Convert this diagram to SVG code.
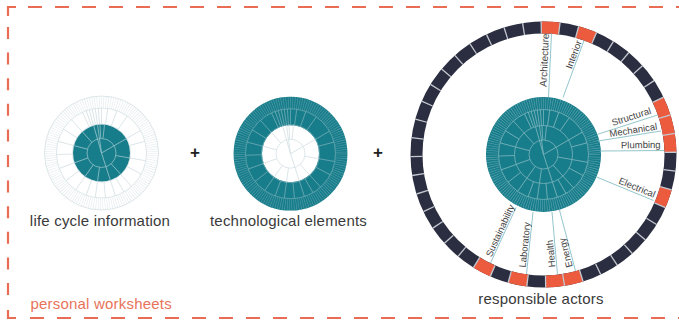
<svg xmlns="http://www.w3.org/2000/svg" width="679" height="325" viewBox="0 0 679 325">
<style>
.brd{fill:none;stroke:#e96d55;stroke-width:2.2}
.lbl{font-family:"Liberation Sans",Arial,sans-serif;font-size:15px;letter-spacing:0.2px;fill:#3a3a3a;text-anchor:middle}
.plus{font-family:"Liberation Sans",Arial,sans-serif;font-size:17px;font-weight:bold;fill:#222;text-anchor:middle}
.act{font-family:"Liberation Sans",Arial,sans-serif;font-size:9.5px;fill:#444}
.lead{stroke:#93c6cc;stroke-width:1;fill:none}
.teal{fill:#187d8b}
.seg{fill:none;stroke:#ec5b3d;stroke-width:12;stroke-dasharray:18.135 779.83}
</style>
<defs>
<g id="inner" fill="none">
<circle r="14.5"/>
<line y2="-29" transform="rotate(-16)"/>
<line y2="-29" transform="rotate(-8)"/>
<line y2="-29" transform="rotate(60)"/>
<line y2="-29" transform="rotate(162)"/>
<line y1="-14.5" y2="-29" transform="rotate(-3)"/>
<line y1="-14.5" y2="-29" transform="rotate(6)"/>
<line y1="-14.5" y2="-29" transform="rotate(100)"/>
<line y1="-14.5" y2="-29" transform="rotate(138)"/>
<line y1="-14.5" y2="-29" transform="rotate(188)"/>
<line y1="-14.5" y2="-29" transform="rotate(215)"/>
<line y1="-14.5" y2="-29" transform="rotate(250)"/>
<line y1="-14.5" y2="-29" transform="rotate(285)"/>
<line y1="-14.5" y2="-29" transform="rotate(318)"/>
</g>
<g id="outer" fill="none">
<circle r="29"/>
<circle r="45"/>
<circle r="51" stroke-width="12" stroke-dasharray="0.55 1.69" stroke-opacity="0.75"/>
<line y1="-29" y2="-45" transform="rotate(-20)"/>
<line y1="-29" y2="-45" transform="rotate(-16)"/>
<line y1="-29" y2="-45" transform="rotate(-12)"/>
<line y1="-29" y2="-45" transform="rotate(-8)"/>
<line y1="-29" y2="-45" transform="rotate(-4)"/>
<line y1="-29" y2="-45" transform="rotate(0)"/>
<line y1="-29" y2="-45" transform="rotate(8)"/>
<line y1="-29" y2="-45" transform="rotate(20)"/>
<line y1="-29" y2="-45" transform="rotate(35)"/>
<line y1="-29" y2="-45" transform="rotate(60)"/>
<line y1="-29" y2="-45" transform="rotate(75)"/>
<line y1="-29" y2="-45" transform="rotate(100)"/>
<line y1="-29" y2="-45" transform="rotate(118)"/>
<line y1="-29" y2="-45" transform="rotate(138)"/>
<line y1="-29" y2="-45" transform="rotate(150)"/>
<line y1="-29" y2="-45" transform="rotate(162)"/>
<line y1="-29" y2="-45" transform="rotate(175)"/>
<line y1="-29" y2="-45" transform="rotate(188)"/>
<line y1="-29" y2="-45" transform="rotate(200)"/>
<line y1="-29" y2="-45" transform="rotate(215)"/>
<line y1="-29" y2="-45" transform="rotate(232)"/>
<line y1="-29" y2="-45" transform="rotate(250)"/>
<line y1="-29" y2="-45" transform="rotate(268)"/>
<line y1="-29" y2="-45" transform="rotate(285)"/>
<line y1="-29" y2="-45" transform="rotate(302)"/>
<line y1="-29" y2="-45" transform="rotate(318)"/>
<line y1="-29" y2="-45" transform="rotate(335)"/>
</g>
</defs>

<g id="frame">
<path class="brd" d="M8 16 V7 H16"/>
<path class="brd" d="M28 7 H679" stroke-dasharray="14 13"/>
<path class="brd" d="M8 27 V300" stroke-dasharray="12 13.6"/>
<path class="brd" d="M8 310 V318 H16"/>
<path class="brd" d="M30 318 H679" stroke-dasharray="14 13"/>
<text x="30.5" y="309" class="lbl" style="text-anchor:start;fill:#e8735a">personal worksheets</text>
</g>

<g id="life-cycle">
<circle cx="101.5" cy="153" r="57" fill="#fff" stroke="#d6e1e5" stroke-width="0.8"/>
<use href="#outer" transform="translate(101.5,153)" stroke="#d6e1e5" stroke-width="0.8"/>
<circle cx="101.5" cy="153" r="28.5" class="teal"/>
<use href="#inner" transform="translate(101.5,153)" stroke="#8fc0c7" stroke-width="0.8"/>
<text x="100" y="226" class="lbl">life cycle information</text>
</g>

<text x="195" y="158" class="plus">+</text>

<g id="tech-elements">
<circle cx="290.5" cy="153.7" r="42.7" fill="none" stroke="#187d8b" stroke-width="28.4"/>
<use href="#outer" transform="translate(290.5,153.7)" stroke="#6aa9b3" stroke-width="0.8"/>
<use href="#inner" transform="translate(290.5,153.7)" stroke="#d6e1e5" stroke-width="0.8"/>
<text x="288.5" y="226" class="lbl">technological elements</text>
</g>

<text x="378" y="158" class="plus">+</text>

<g id="actors-ring">
<circle cx="543.5" cy="154.5" r="127" fill="none" stroke="#2b2e40" stroke-width="12"/>
<circle cx="543.5" cy="154.5" r="127" class="seg" transform="rotate(-91 543.5 154.5)"/>
<circle cx="543.5" cy="154.5" r="127" class="seg" transform="rotate(-74.64 543.5 154.5)"/>
<circle cx="543.5" cy="154.5" r="127" class="seg" transform="rotate(-25.55 543.5 154.5)"/>
<circle cx="543.5" cy="154.5" r="127" class="seg" transform="rotate(-17.36 543.5 154.5)"/>
<circle cx="543.5" cy="154.5" r="127" class="seg" transform="rotate(-9.18 543.5 154.5)"/>
<circle cx="543.5" cy="154.5" r="127" class="seg" transform="rotate(15.36 543.5 154.5)"/>
<circle cx="543.5" cy="154.5" r="127" class="seg" transform="rotate(72.64 543.5 154.5)"/>
<circle cx="543.5" cy="154.5" r="127" class="seg" transform="rotate(80.82 543.5 154.5)"/>
<circle cx="543.5" cy="154.5" r="127" class="seg" transform="rotate(97.18 543.5 154.5)"/>
<circle cx="543.5" cy="154.5" r="127" class="seg" transform="rotate(113.55 543.5 154.5)"/>
<circle cx="543.5" cy="154.5" r="127" fill="none" stroke="#c4c8d0" stroke-width="12" stroke-dasharray="1.3 16.835" transform="rotate(-91.3 543.5 154.5)"/>
</g>

<g id="actors-disk">
<circle cx="543.5" cy="154.5" r="57.5" class="teal"/>
<use href="#outer" transform="translate(543.5,154.5)" stroke="#7ab4bc" stroke-width="0.8"/>
<use href="#inner" transform="translate(543.5,154.5)" stroke="#7ab4bc" stroke-width="0.8"/>
<text x="541" y="304" class="lbl">responsible actors</text>
</g>

<g id="connectors">
<line class="lead" x1="548.5" y1="97" x2="551.5" y2="33.5"/>
<line class="lead" x1="563" y1="97.5" x2="584" y2="40.5"/>
<line class="lead" x1="597" y1="134.5" x2="657.5" y2="115"/>
<line class="lead" x1="598" y1="141" x2="661" y2="131"/>
<line class="lead" x1="600.5" y1="151" x2="664.5" y2="150.5"/>
<line class="lead" x1="596.5" y1="177" x2="653.5" y2="200.5"/>
<line class="lead" x1="516" y1="207.5" x2="490.5" y2="263"/>
<line class="lead" x1="533" y1="212" x2="526.5" y2="274"/>
<line class="lead" x1="552" y1="212" x2="557.5" y2="274.5"/>
<line class="lead" x1="559.5" y1="210" x2="575.5" y2="271"/>
</g>

<g id="actor-labels">
<text class="act" transform="translate(546.5,87) rotate(-87.3)" style="font-size:10px">Architecture</text>
<text class="act" transform="translate(571.7,69.5) rotate(-69.8)">Interior</text>
<text class="act" transform="translate(613,126) rotate(-17.9)">Structural</text>
<text class="act" transform="translate(610,137) rotate(-9)">Mechanical</text>
<text class="act" transform="translate(621,148.5) rotate(-1)">Plumbing</text>
<text class="act" transform="translate(618,183.2) rotate(22.4)">Electrical</text>
<text class="act" transform="translate(491.4,257.4) rotate(-65.3)">Sustainability</text>
<text class="act" transform="translate(525.6,267.8) rotate(-84)">Laboratory</text>
<text class="act" transform="translate(555.3,267.1) rotate(-95)">Health</text>
<text class="act" transform="translate(572.7,266.4) rotate(-104.7)">Energy</text>
</g>
</svg>
